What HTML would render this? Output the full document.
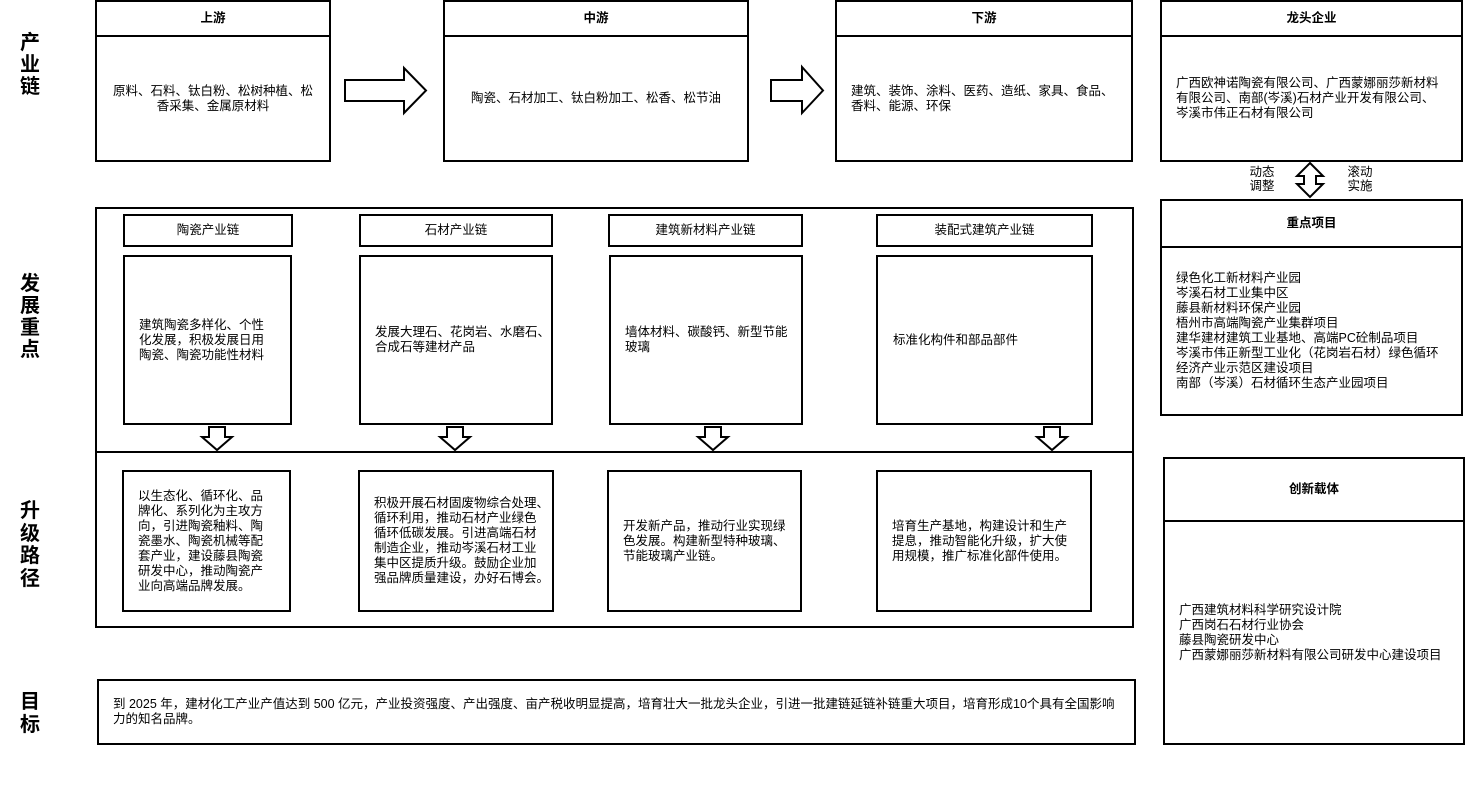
<!DOCTYPE html>
<html><head><meta charset="utf-8">
<style>
*{margin:0;padding:0;box-sizing:border-box}
body{width:1465px;height:797px;background:#fff;position:relative;overflow:hidden;font-family:"Liberation Sans","Noto Sans CJK SC",sans-serif;font-size:12.5px;line-height:15px;color:#000}
.b{position:absolute;border:2px solid #000;background:#fff;display:flex;flex-direction:column}
.h{height:35px;border-bottom:2px solid #000;display:flex;align-items:center;justify-content:center;font-weight:bold;font-size:12.5px;flex:none}
.c{flex:1;display:flex;align-items:center;white-space:nowrap}
.cc{justify-content:center;text-align:center}
.cl{padding-left:14px}
.box{position:absolute;border:2px solid #000;background:#fff;display:flex;align-items:center;white-space:nowrap;padding-left:14px}
.hd{position:absolute;border:2px solid #000;background:#fff;display:flex;align-items:center;justify-content:center;white-space:nowrap}
.lab{position:absolute;font-weight:bold;font-size:20px;line-height:22px;width:40px;text-align:center;left:10px}
.sm{position:absolute;font-size:12.5px;line-height:14px;text-align:center;width:30px}
svg{position:absolute;left:0;top:0}
</style></head><body>

<div class="lab" style="top:32px">产<br>业<br>链</div>
<div class="lab" style="top:273px">发<br>展<br>重<br>点</div>
<div class="lab" style="top:500px;line-height:22.5px">升<br>级<br>路<br>径</div>
<div class="lab" style="top:691px;line-height:23px">目<br>标</div>

<div class="b" style="left:95px;top:0;width:236px;height:162px">
<div class="h">上游</div>
<div class="c cc">原料、石料、钛白粉、松树种植、松<br>香采集、金属原材料</div></div>

<div class="b" style="left:443px;top:0;width:306px;height:162px">
<div class="h">中游</div>
<div class="c cc">陶瓷、石材加工、钛白粉加工、松香、松节油</div></div>

<div class="b" style="left:835px;top:0;width:298px;height:162px">
<div class="h">下游</div>
<div class="c cl">建筑、装饰、涂料、医药、造纸、家具、食品、<br>香料、能源、环保</div></div>

<div class="b" style="left:1160px;top:0;width:303px;height:162px">
<div class="h">龙头企业</div>
<div class="c cl">广西欧神诺陶瓷有限公司、广西蒙娜丽莎新材料<br>有限公司、南部(岑溪)石材产业开发有限公司、<br>岑溪市伟正石材有限公司</div></div>

<div class="sm" style="left:1247px;top:165px">动态<br>调整</div>
<div class="sm" style="left:1345px;top:165px">滚动<br>实施</div>

<div class="b" style="left:1160px;top:199px;width:303px;height:217px">
<div class="h" style="height:47px">重点项目</div>
<div class="c cl">绿色化工新材料产业园<br>岑溪石材工业集中区<br>藤县新材料环保产业园<br>梧州市高端陶瓷产业集群项目<br>建华建材建筑工业基地、高端PC砼制品项目<br>岑溪市伟正新型工业化（花岗岩石材）绿色循环<br>经济产业示范区建设项目<br>南部（岑溪）石材循环生态产业园项目</div></div>

<div class="b" style="left:1163px;top:457px;width:302px;height:288px">
<div class="h" style="height:63px">创新载体</div>
<div class="c cl">广西建筑材料科学研究设计院<br>广西岗石石材行业协会<br>藤县陶瓷研发中心<br>广西蒙娜丽莎新材料有限公司研发中心建设项目</div></div>

<div style="position:absolute;left:95px;top:207px;width:1039px;height:421px;border:2px solid #000"></div>
<div style="position:absolute;left:95px;top:451px;width:1039px;height:2px;background:#000"></div>

<div class="hd" style="left:123px;top:214px;width:170px;height:33px">陶瓷产业链</div>
<div class="hd" style="left:359px;top:214px;width:194px;height:33px">石材产业链</div>
<div class="hd" style="left:608px;top:214px;width:195px;height:33px">建筑新材料产业链</div>
<div class="hd" style="left:876px;top:214px;width:217px;height:33px">装配式建筑产业链</div>

<div class="box" style="left:123px;top:255px;width:169px;height:170px">建筑陶瓷多样化、个性<br>化发展，积极发展日用<br>陶瓷、陶瓷功能性材料</div>
<div class="box" style="left:359px;top:255px;width:194px;height:170px">发展大理石、花岗岩、水磨石、<br>合成石等建材产品</div>
<div class="box" style="left:609px;top:255px;width:194px;height:170px">墙体材料、碳酸钙、新型节能<br>玻璃</div>
<div class="box" style="left:876px;top:255px;width:217px;height:170px;padding-left:15px">标准化构件和部品部件</div>

<div class="box" style="left:122px;top:470px;width:169px;height:142px">以生态化、循环化、品<br>牌化、系列化为主攻方<br>向，引进陶瓷釉料、陶<br>瓷墨水、陶瓷机械等配<br>套产业，建设藤县陶瓷<br>研发中心，推动陶瓷产<br>业向高端品牌发展。</div>
<div class="box" style="left:358px;top:470px;width:196px;height:142px">积极开展石材固废物综合处理、<br>循环利用，推动石材产业绿色<br>循环低碳发展。引进高端石材<br>制造企业，推动岑溪石材工业<br>集中区提质升级。鼓励企业加<br>强品牌质量建设，办好石博会。</div>
<div class="box" style="left:607px;top:470px;width:195px;height:142px">开发新产品，推动行业实现绿<br>色发展。构建新型特种玻璃、<br>节能玻璃产业链。</div>
<div class="box" style="left:876px;top:470px;width:216px;height:142px">培育生产基地，构建设计和生产<br>提息，推动智能化升级，扩大使<br>用规模，推广标准化部件使用。</div>

<div class="box" style="left:97px;top:679px;width:1039px;height:66px">到 2025 年，建材化工产业产值达到 500 亿元，产业投资强度、产出强度、亩产税收明显提高，培育壮大一批龙头企业，引进一批建链延链补链重大项目，培育形成10个具有全国影响<br>力的知名品牌。</div>

<svg width="1465" height="797" viewBox="0 0 1465 797">
<g fill="#fff" stroke="#000" stroke-width="2" stroke-linejoin="miter">
<polygon points="345,80 404,80 404,68 426,90.5 404,113 404,101 345,101"/>
<polygon points="771,80 802,80 802,67 823,90.5 802,113 802,101 771,101"/>
<polygon points="1310,163 1323,176 1316,176 1316,184 1323,184 1310,197 1297,184 1304,184 1304,176 1297,176"/>
<polygon points="209,427 225,427 225,437 232,437 217,450 202,437 209,437"/>
<polygon points="447,427 463,427 463,437 470,437 455,450 440,437 447,437"/>
<polygon points="705,427 721,427 721,437 728,437 713,450 698,437 705,437"/>
<polygon points="1044,427 1060,427 1060,437 1067,437 1052,450 1037,437 1044,437"/>
</g>
</svg>
</body></html>
